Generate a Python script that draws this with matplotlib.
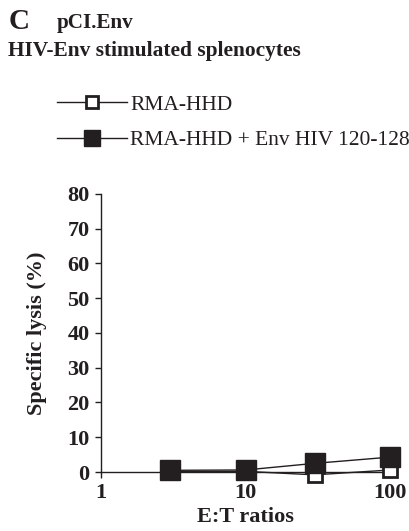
import matplotlib
matplotlib.use("Agg")
import matplotlib.pyplot as plt
from matplotlib.lines import Line2D

et_ratios = [3, 10, 30, 100]
rma_hhd = [0.1, 0.2, -0.8, 0.6]
rma_hhd_env = [0.5, 0.6, 2.5, 4.3]
y_ticks = [0, 10, 20, 30, 40, 50, 60, 70, 80]
x_ticks = [1, 10, 100]
x_ticklabels = ["1", "10", "100"]

plt.rcParams['font.family'] = ['Liberation Serif', 'DejaVu Serif']

fig = plt.figure(figsize=(4.10, 5.31), dpi=100)
ax = fig.add_axes([0.246, 0.111, 0.706, 0.524])

col = '#231f20'
ax.plot(et_ratios, rma_hhd, color=col, lw=1.0, marker='s', ms=10,
        mfc='white', mec=col, mew=2.0, clip_on=False, zorder=3)
ax.plot(et_ratios, rma_hhd_env, color=col, lw=1.0, marker='s', ms=15,
        mfc=col, mec=col, clip_on=False, zorder=4)

ax.set_xscale('log')
ax.set_xlim(1, 100)
ax.set_ylim(0, 80)
ax.set_xticks(x_ticks)
ax.set_xticklabels(x_ticklabels)
ax.minorticks_off()
ax.set_yticks(y_ticks)
for s in ['top', 'right']:
    ax.spines[s].set_visible(False)
for s in ['left', 'bottom']:
    ax.spines[s].set_color(col)
    ax.spines[s].set_linewidth(1.0)
ax.tick_params(axis='both', direction='out', length=4, width=1, colors=col,
               labelsize=16, pad=4)
for lab in ax.get_xticklabels() + ax.get_yticklabels():
    lab.set_fontweight('bold')
    lab.set_color(col)
ax.set_ylabel('Specific lysis (%)', fontsize=16, fontweight='bold', color=col)
ax.yaxis.set_label_coords(-0.22, 0.5)
ax.set_xlabel('E:T ratios', fontsize=16, fontweight='bold', color=col)
ax.xaxis.set_label_coords(0.5, -0.162)
ax.xaxis.label.set_va('center')
ax.yaxis.label.set_va('center')

fig.text(0.02, 0.96, 'C', fontsize=21, fontweight='bold', color=col, va='center')
fig.text(0.138, 0.956, 'pCI.Env', fontsize=15.2, fontweight='bold', color=col, va='center')
fig.text(0.02, 0.904, 'HIV-Env stimulated splenocytes', fontsize=15.4, fontweight='bold',
         color=col, va='center')

h1 = Line2D([], [], color=col, lw=1.0, marker='s', ms=9, mfc='white', mec=col, mew=2.0)
h2 = Line2D([], [], color=col, lw=1.0, marker='s', ms=11, mfc=col, mec=col)
leg = fig.legend([h1, h2], ['RMA-HHD', 'RMA-HHD + Env HIV 120-128'],
                 loc='upper left', bbox_to_anchor=(0.139, 0.822), frameon=False,
                 fontsize=15.5, handlelength=3.25, handletextpad=0.15,
                 labelspacing=0.72, borderaxespad=0, borderpad=0)
for t in leg.get_texts():
    t.set_color(col)

fig.savefig('out.png', dpi=100)
